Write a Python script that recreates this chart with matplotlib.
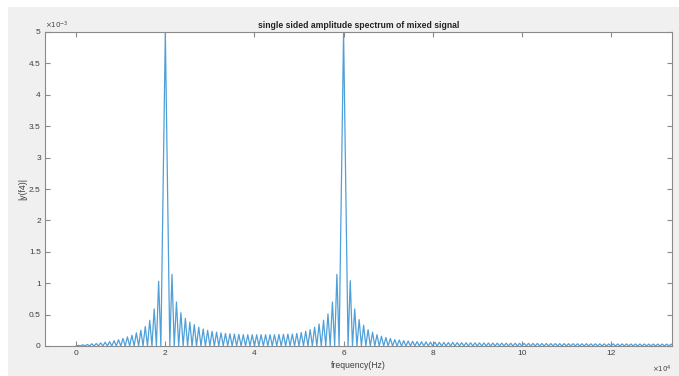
import matplotlib
matplotlib.use('Agg')
import matplotlib.pyplot as plt
from matplotlib.patches import Rectangle
from matplotlib.ticker import FuncFormatter
import numpy as np

plt.rcParams['font.family'] = ['Liberation Sans', 'DejaVu Sans']

# tone frequencies (Hz) and their peak amplitude
tone_freqs = [20000, 60000]
tone_peaks = [5.0e-3, 5.0e-3]
lobe_spacing = 1000  # Hz, sidelobe spacing

# sidelobe peak heights (x1e-3)
left_lobes = [0.01, 0.02, 0.025, 0.035, 0.04, 0.05, 0.06, 0.07, 0.085, 0.10,
              0.12, 0.145, 0.17, 0.21, 0.25, 0.31, 0.41, 0.59, 1.03]
mid_lobes = [1.14, 0.70, 0.53, 0.44, 0.38, 0.34, 0.30, 0.27, 0.25, 0.235,
             0.22, 0.21, 0.20, 0.195, 0.19, 0.185, 0.18, 0.18, 0.18,
             0.18, 0.18, 0.18, 0.18, 0.18, 0.185, 0.185, 0.19, 0.19, 0.20,
             0.215, 0.235, 0.26, 0.30, 0.35, 0.41, 0.51, 0.70, 1.14]
right_lobes = [1.04, 0.59, 0.42, 0.33, 0.26, 0.22, 0.18, 0.155, 0.135, 0.12,
               0.10, 0.095, 0.085, 0.08, 0.075, 0.07, 0.068, 0.065, 0.062, 0.06,
               0.058, 0.057, 0.056, 0.055, 0.054, 0.053, 0.052, 0.051, 0.05, 0.05,
               0.049, 0.048, 0.047, 0.046, 0.046, 0.045, 0.044, 0.044, 0.043, 0.042,
               0.042, 0.041, 0.041, 0.040, 0.040, 0.039, 0.039, 0.038, 0.038, 0.037,
               0.037, 0.036, 0.036, 0.036, 0.035, 0.035, 0.035, 0.034, 0.034, 0.034,
               0.033, 0.033, 0.033, 0.032, 0.032, 0.032, 0.032, 0.031, 0.031, 0.031,
               0.031, 0.030, 0.030]

x_ticks = [0, 2, 4, 6, 8, 10, 12]          # x1e4 Hz
y_ticks = [0, 0.5, 1, 1.5, 2, 2.5, 3, 3.5, 4, 4.5, 5]  # x1e-3

# assemble the polyline: lobe peaks at half-spacing, nulls at whole spacing
half = lobe_spacing / 2
lf = np.arange(half, tone_freqs[0] - lobe_spacing, lobe_spacing)
mf = np.arange(tone_freqs[0] + lobe_spacing + half, tone_freqs[1] - lobe_spacing, lobe_spacing)
rf = tone_freqs[1] + lobe_spacing + half + lobe_spacing * np.arange(len(right_lobes))
peak_f = np.concatenate([lf, [tone_freqs[0]], mf, [tone_freqs[1]], rf])
peak_v = np.concatenate([np.array(left_lobes) * 1e-3, [tone_peaks[0]],
                         np.array(mid_lobes) * 1e-3, [tone_peaks[1]],
                         np.array(right_lobes) * 1e-3])
null_f = np.arange(0, rf[-1] + lobe_spacing, lobe_spacing)
null_f = null_f[~np.isin(null_f, tone_freqs)]
f = np.concatenate([peak_f, null_f])
v = np.concatenate([peak_v, np.zeros(len(null_f))])
order = np.argsort(f)
f, v = f[order], v[order]

fig = plt.figure(figsize=(6.79, 3.76), dpi=100, facecolor='white')
bg = Rectangle((8 / 679, 0), 1, 1 - 7 / 376, transform=fig.transFigure,
               facecolor='#f0f0f0', edgecolor='none', zorder=-10)
fig.patches.append(bg)
ax = fig.add_axes([45 / 679, 30 / 376, 627 / 679, 314 / 376])
ax.set_zorder(1)
ax.set_facecolor('white')

ax.plot(f, v, color='#4f9fd8', lw=0.9, solid_joinstyle='round')

ax.set_xlim(-0.7e4, 13.37e4)
ax.set_ylim(0, 5e-3)
ax.set_xticks(np.array(x_ticks) * 1e4)
ax.set_yticks(np.array(y_ticks) * 1e-3)
ax.xaxis.set_major_formatter(FuncFormatter(lambda val, p: '%g' % round(val / 1e4, 6)))
ax.yaxis.set_major_formatter(FuncFormatter(lambda val, p: '%g' % round(val * 1e3, 6)))

spine_c = '#8a8a8a'
for s in ax.spines.values():
    s.set_color(spine_c)
    s.set_linewidth(0.8)
ax.tick_params(direction='in', length=3.5, width=0.8, color=spine_c,
               labelsize=6, labelcolor='#404040', top=True, right=True, pad=3)

ax.set_title('single sided amplitude spectrum of mixed signal', fontsize=6.2,
             fontweight='bold', color='#222222', pad=3)
ax.set_xlabel('frequency(Hz)', fontsize=6.2, color='#404040', labelpad=3)
ax.set_ylabel('|y(f4)|', fontsize=6.2, color='#404040', labelpad=1)

ax.text(0, 1.004, r'$\times10^{-3}$', transform=ax.transAxes, fontsize=5,
        color='#404040', ha='left', va='bottom')
ax.text(1, -0.055, r'$\times10^{4}$', transform=ax.transAxes, fontsize=5,
        color='#404040', ha='right', va='top')

fig.savefig('out.png', dpi=100)
